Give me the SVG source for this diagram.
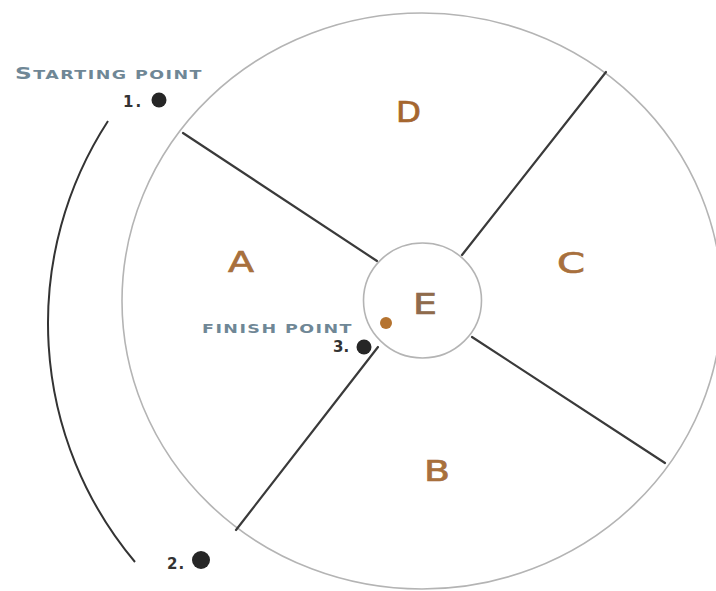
<svg xmlns="http://www.w3.org/2000/svg" width="716" height="591" viewBox="0 0 716 591">
<style>
.ring{fill:none;stroke:#b4b4b4;stroke-width:1.6}
.div{stroke:#3a3a3a;stroke-width:2.2;stroke-linecap:round}
.zone{font-family:"DejaVu Sans",sans-serif;font-size:29px;fill:#a8703d;stroke:#a8703d;stroke-width:0.7}
.lbl{font-family:"DejaVu Sans",sans-serif;font-weight:bold;fill:#6f8796}
.num{font-family:"DejaVu Sans",sans-serif;font-weight:bold;font-size:15px;fill:#333}
.dot{fill:#262626}
</style>
<rect width="716" height="591" fill="#fff"/>
<g id="outer"><ellipse class="ring" cx="422" cy="301" rx="300" ry="288"/></g>
<g id="connectors">
<line class="div" x1="183" y1="133" x2="377" y2="261"/>
<line class="div" x1="606" y1="72" x2="462" y2="255"/>
<line class="div" x1="472" y1="337" x2="665" y2="463"/>
<line class="div" x1="378" y1="347" x2="236" y2="530"/>
<path d="M108,121 A371,371 0 0 0 135,562" fill="none" stroke="#333" stroke-width="2"/>
</g>
<g id="E"><ellipse cx="422.5" cy="300.5" rx="59" ry="57.5" fill="#fff" stroke="#b4b4b4" stroke-width="1.6"/><text class="zone" x="413" y="314" textLength="24" lengthAdjust="spacingAndGlyphs" style="fill:#8f6b4c;stroke:#8f6b4c">E</text></g>
<g id="A"><text class="zone" x="228" y="272" textLength="26" lengthAdjust="spacingAndGlyphs">A</text></g>
<g id="D"><text class="zone" x="396" y="122" textLength="25" lengthAdjust="spacingAndGlyphs" style="fill:#a5662f;stroke:#a5662f">D</text></g>
<g id="C"><text class="zone" x="557" y="273" textLength="28" lengthAdjust="spacingAndGlyphs">C</text></g>
<g id="B"><text class="zone" x="424" y="481" textLength="26" lengthAdjust="spacingAndGlyphs">B</text></g>
<g id="start">
<text class="lbl" x="15" y="79" font-size="12" letter-spacing="1" textLength="188" lengthAdjust="spacingAndGlyphs"><tspan font-size="16">S</tspan>TARTING POINT</text>
<text class="num" x="123" y="107" letter-spacing="2">1.</text>
<circle class="dot" cx="159" cy="100" r="7.5"/>
</g>
<g id="end2">
<text class="num" x="167" y="569" letter-spacing="1">2.</text>
<circle class="dot" cx="201" cy="560" r="9"/>
</g>
<g id="finish">
<text class="lbl" x="202" y="333" font-size="12" letter-spacing="1" textLength="151" lengthAdjust="spacingAndGlyphs">FINISH POINT</text>
<text class="num" x="333" y="352">3.</text>
<circle class="dot" cx="364" cy="347" r="7.5"/>
<circle cx="386" cy="323" r="6" fill="#b5732f"/>
</g>
</svg>
